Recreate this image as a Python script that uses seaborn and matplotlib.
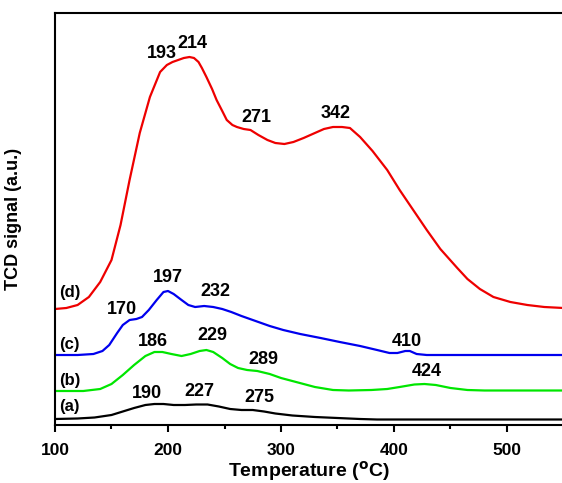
import numpy as np
import pandas as pd
import matplotlib
matplotlib.use("Agg")
import matplotlib.pyplot as plt
import seaborn as sns

# TPR curves (y in arbitrary, offset units)
temp_a = [100, 120, 135, 150, 160, 170, 180, 188, 196, 205, 215, 225, 235, 245, 255, 265, 275, 285, 295, 310, 330, 350, 370, 385, 550]
sig_a = [6, 6.5, 7.5, 10, 13.5, 17, 20, 21, 21, 20, 20, 20.5, 20.5, 18.5, 16, 15, 15, 13.5, 11.5, 9.5, 8, 7, 6, 5.5, 5.5]

temp_b = [100, 125, 140, 150, 160, 170, 180, 188, 195, 203, 212, 220, 228, 234, 240, 248, 255, 262, 270, 279, 290, 300, 310, 320, 330, 346, 360, 380, 394, 405, 418, 427, 437, 450, 465, 480, 550]
sig_b = [34, 34, 36, 41, 50, 60, 69, 73, 73, 71, 69, 71, 74, 75, 73, 67, 61, 57, 55, 54, 51, 47, 44, 41, 38, 35, 34.5, 35, 36, 38, 40.5, 41, 40, 37, 35, 34.5, 34.5]

temp_c = [100, 120, 134, 142, 148, 155, 160, 166, 172, 177, 183, 190, 196, 200, 205, 212, 218, 224, 232, 240, 248, 256, 265, 275, 290, 302, 317, 335, 352, 370, 385, 396, 403, 410, 414, 420, 429, 450, 550]
sig_c = [70, 70, 71, 74, 80, 92, 100, 105, 106, 108, 115, 125, 133, 134, 131, 125, 120, 118, 119, 118, 116, 113, 109, 105, 99, 95, 91, 87, 83, 79, 75, 72, 72, 74, 74, 71, 70, 70, 70]

temp_d = [100, 110, 120, 130, 140, 150, 158, 166, 175, 184, 193, 199, 204, 209, 214, 219, 223, 227, 230, 234, 239, 243, 248, 252, 257, 261, 267, 273, 280, 288, 295, 303, 311, 320, 330, 338, 346, 354, 361, 370, 381, 394, 405, 417, 429, 441, 456, 465, 476, 488, 503, 518, 533, 550]
sig_d = [116, 117, 120, 128, 143, 165, 200, 245, 292, 328, 353, 360, 363, 365, 367, 368, 367, 363, 357, 348, 336, 325, 314, 305, 300, 298, 296, 295, 290, 285, 282, 281, 283, 287, 292, 296, 298, 298, 297, 288, 274, 255, 235, 215, 195, 176, 157, 146, 136, 128, 123, 120, 118, 117]

samples = ["(a)", "(b)", "(c)", "(d)"]
colors = {"(a)": "black", "(b)": "#00e600", "(c)": "#0000ee", "(d)": "#ee0000"}

# peak temperatures and where their labels sit
peak_labels = ["190", "227", "275", "186", "229", "289", "424", "170", "197", "232", "410", "193", "214", "271", "342"]
peak_x = [181, 228, 281, 187, 239, 284, 429, 159, 200, 242, 411, 195, 222, 278, 348]
peak_y = [32, 33, 27, 83, 89, 66, 53, 115, 148, 134, 83, 372, 382, 307, 312]
sample_y = [19, 45, 81, 132]

df = pd.concat([
    pd.DataFrame({"temp": temp_a, "signal": sig_a, "sample": "(a)"}),
    pd.DataFrame({"temp": temp_b, "signal": sig_b, "sample": "(b)"}),
    pd.DataFrame({"temp": temp_c, "signal": sig_c, "sample": "(c)"}),
    pd.DataFrame({"temp": temp_d, "signal": sig_d, "sample": "(d)"}),
])

sns.set_style("ticks")
plt.rcParams["font.family"] = ["Liberation Sans", "DejaVu Sans"]
plt.rcParams["font.weight"] = "bold"
plt.rcParams["text.color"] = "black"
plt.rcParams["axes.labelcolor"] = "black"
plt.rcParams["xtick.color"] = "black"
plt.rcParams["axes.edgecolor"] = "black"
plt.rcParams["lines.solid_joinstyle"] = "round"

fig = plt.figure(figsize=(5.62, 4.83), dpi=100)
ax = fig.add_axes([55 / 562, 58 / 483, 508.5 / 562, 412.5 / 483])

sns.lineplot(data=df, x="temp", y="signal", hue="sample", palette=colors,
             linewidth=1.6, legend=False, sort=False, estimator=None, ax=ax)

for lab, x, y in zip(peak_labels, peak_x, peak_y):
    ax.text(x, y, lab, ha="center", va="center", fontsize=13, fontweight="bold")
for lab, y in zip(samples, sample_y):
    ax.text(104, y, lab, ha="left", va="center", fontsize=12, fontweight="bold")

ax.set_xlim(100, 550)
ax.set_ylim(0, 412.5)
ax.set_xticks([100, 200, 300, 400, 500])
ax.set_xticks([150, 250, 350, 450], minor=True)
ax.set_yticks([])
ax.tick_params(axis="x", which="major", direction="out", length=5, width=1.5, labelsize=12.5, pad=8)
ax.tick_params(axis="x", which="minor", direction="out", length=3, width=1.5)
for lbl in ax.get_xticklabels():
    lbl.set_fontweight("bold")
for sp in ax.spines.values():
    sp.set_linewidth(1.5)
    sp.set_visible(True)
ax.spines["right"].set_visible(False)

ax.set_xlabel(r"Temperature ($^{\rm o}$C)", fontsize=14, fontweight="bold", labelpad=1)
ax.set_ylabel("TCD signal (a.u.)", fontsize=13, fontweight="bold", labelpad=24)

fig.savefig("out.png", dpi=100)
